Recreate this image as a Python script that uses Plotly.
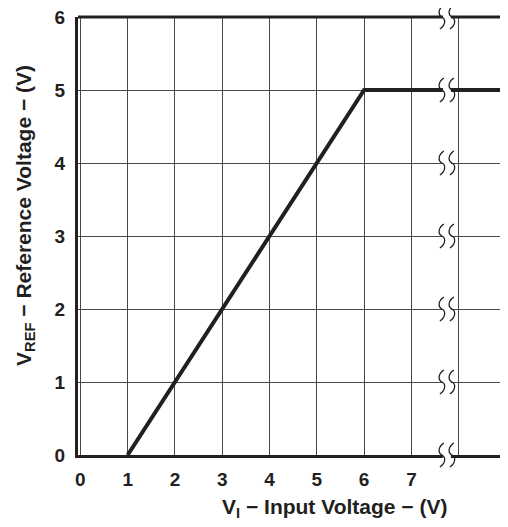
import plotly.graph_objects as go

# Data
vin = [1, 6, 9]
vref = [0, 5, 5]
x_ticks = [0, 1, 2, 3, 4, 5, 6, 7, 8, 9]
x_ticklabels = ["0", "1", "2", "3", "4", "5", "6", "7", "", ""]
y_ticks = [0, 1, 2, 3, 4, 5, 6]
x_range = [-0.05, 9]
y_range = [0, 6]
break_x = 7.75

TXT = "#231f20"
GRID = "#4a4a4a"
TICKFONT = dict(family="Liberation Sans, Arial, sans-serif", size=19, color=TXT, weight="bold")
TITLEFONT = dict(family="Liberation Sans, Arial, sans-serif", size=21, color=TXT, weight="bold")

fig = go.Figure()
fig.add_trace(go.Scatter(x=vin, y=vref, mode="lines",
                         line=dict(color=TXT, width=4), showlegend=False))

bx_paper = (break_x - x_range[0]) / (x_range[1] - x_range[0])
shapes = []
# top border
shapes.append(dict(type="line", xref="paper", yref="paper", x0=0, x1=1, y0=1, y1=1,
                   line=dict(color=TXT, width=3), layer="above"))
# break marks on every horizontal grid line
for yv in y_ticks:
    yp = (yv - y_range[0]) / (y_range[1] - y_range[0])
    shapes.append(dict(type="rect", xref="paper", yref="paper", xsizemode="pixel", ysizemode="pixel",
                       xanchor=bx_paper, yanchor=yp, x0=-4, x1=4, y0=-4, y1=4,
                       fillcolor="white", line=dict(width=0), layer="above"))
    for dx in (-5, 5):
        shapes.append(dict(type="path", xref="paper", yref="paper", xsizemode="pixel", ysizemode="pixel",
                           xanchor=bx_paper, yanchor=yp,
                           path=f"M {dx+2},12 C {dx-4},8 {dx-4},2 {dx},0 C {dx+4},-2 {dx+4},-8 {dx-2},-12",
                           line=dict(color=TXT, width=1.3), layer="above"))

fig.update_layout(
    width=500, height=519,
    margin=dict(l=70, r=2, t=9, b=72, autoexpand=False),
    paper_bgcolor="white", plot_bgcolor="white",
    font=TICKFONT,
    shapes=shapes,
    xaxis=dict(range=x_range, tickvals=x_ticks, ticktext=x_ticklabels, automargin=False,
               showgrid=True, gridcolor=GRID, gridwidth=1.3,
               showline=True, linecolor=TXT, linewidth=3, ticklabeloverflow="allow",
               zeroline=False, ticks="", ticklabelstandoff=5, tickfont=TICKFONT),
    yaxis=dict(range=y_range, tickvals=y_ticks, automargin=False,
               showgrid=True, gridcolor=GRID, gridwidth=1.3,
               showline=True, linecolor=TXT, linewidth=3, ticklabeloverflow="allow",
               zeroline=False, ticks="", ticklabelstandoff=6, tickfont=TICKFONT),
    annotations=[
        dict(text="V<sub>I</sub> − Input Voltage − (V)", xref="paper", yref="paper",
             x=0.6, y=-0.121, showarrow=False, font=TITLEFONT, xanchor="center", yanchor="middle"),
        dict(text="V<sub>REF</sub> − Reference Voltage − (V)", xref="paper", yref="paper",
             x=-0.124, y=0.548, showarrow=False, font=TITLEFONT, textangle=-90,
             xanchor="center", yanchor="middle"),
    ],
)

fig.write_html("out.html")
